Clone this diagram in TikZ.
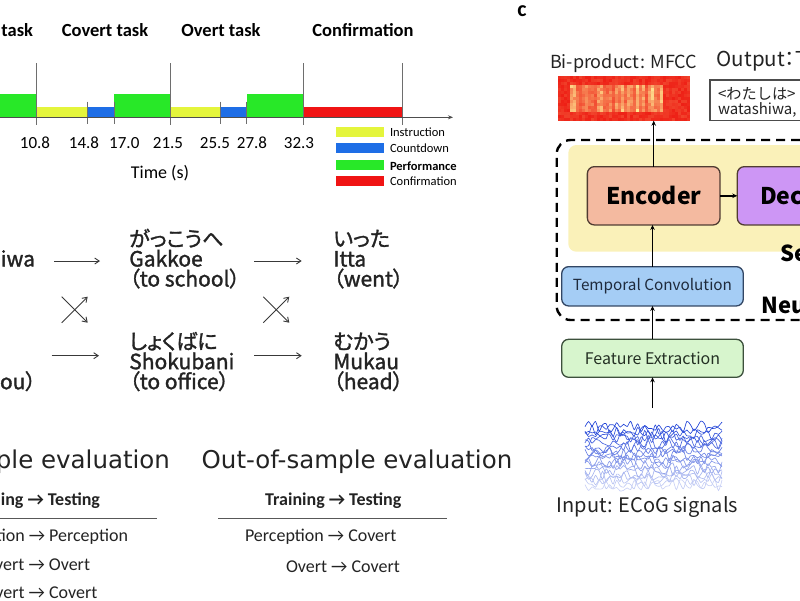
\documentclass[tikz,border=0pt]{standalone}
\usepackage{fontspec}
\setmainfont{Carlito}
\newfontfamily\jpf{Noto Sans CJK JP}
\newfontfamily\jpp[RawFeature=+palt, FakeBold=1.5]{Noto Sans CJK JP}
\newfontfamily\jpq[RawFeature=+palt]{Noto Sans CJK JP}
\newfontfamily\dvf{DejaVu Sans}
\usetikzlibrary{arrows.meta}
\newcommand\myfs[1]{\fontsize{#1}{#1}\selectfont}
\definecolor{tlyel}{RGB}{228,245,60}
\definecolor{tlblue}{RGB}{30,110,230}
\definecolor{tlgreen}{RGB}{40,232,40}
\definecolor{tlred}{RGB}{240,20,20}
\definecolor{axgray}{RGB}{110,110,110}
\definecolor{encfill}{RGB}{244,186,160}
\definecolor{encline}{RGB}{80,60,50}
\definecolor{decfill}{RGB}{205,150,245}
\definecolor{seqyel}{RGB}{250,241,185}
\definecolor{tcfill}{RGB}{165,205,245}
\definecolor{tcline}{RGB}{50,70,100}
\definecolor{fefill}{RGB}{215,245,205}
\definecolor{feline}{RGB}{60,80,60}
\definecolor{sigblue}{RGB}{30,65,215}
\definecolor{mfr}{RGB}{238,32,22}
\definecolor{mfy}{RGB}{255,238,150}
\definecolor{txtgray}{RGB}{35,35,35}
\tikzset{
  every node/.style={inner sep=0pt, outer sep=0pt},
  ttl/.style={font=\bfseries\myfs{18.5}, anchor=base},
  ticklab/.style={font=\myfs{17}, anchor=base},
  leglab/.style={font=\myfs{12.5}, anchor=base west},
  tallline/.style={axgray, line width=1pt},
  jptext/.style={font=\jpp\myfs{21}, anchor=base west, text=txtgray},
  warrow/.style={draw=txtgray!90, line width=0.9pt, -{Straight Barb[length=4.5pt,width=6pt]}},
  evtitle/.style={font=\dvf\myfs{24.5}, text=txtgray},
  evhead/.style={font=\bfseries\myfs{18}, anchor=base, text=txtgray},
  evrow/.style={font=\myfs{18}, text=txtgray},
  evrule/.style={draw=axgray!80!black, line width=1.4pt},
  nnbox/.style={draw, rounded corners=7pt, line width=1.3pt, font=\jpf},
  barrow/.style={draw=black, line width=1.5pt, -{Stealth[length=5pt,width=4.5pt]}},
  rlab/.style={font=\jpf\myfs{18}, anchor=base west, text=txtgray},
}
\begin{document}
\begin{tikzpicture}[x=1pt,y=-1pt]
\useasboundingbox (0,0) rectangle (800,600);
\clip (0,0) rectangle (800,600);

% ---------------- timeline ----------------
\node[ttl, anchor=base east] (t1) at (33,36) {task};
\node[ttl] (t2) at (105,36) {Covert task};
\node[ttl] (t3) at (221,36) {Overt task};
\node[ttl] (t4) at (363,36) {Confirmation};

\fill[tlgreen] (0,94.3) rectangle (36.7,117.3);
\fill[tlyel] (36.7,106.7) rectangle (87.3,117.3);
\fill[tlblue] (87.3,106.7) rectangle (114.3,117.3);
\fill[tlgreen] (114.3,94.3) rectangle (170,117.3);
\fill[tlyel] (170,106.7) rectangle (220,117.3);
\fill[tlblue] (220,106.7) rectangle (246.7,117.3);
\fill[tlgreen] (246.7,94.3) rectangle (303.3,117.3);
\fill[tlred] (303.3,106.7) rectangle (402.3,117.3);

\foreach \tx in {36.7,170,303.3,402.3}{\draw[tallline] (\tx,63) -- (\tx,125);}
\foreach \tx in {87.3,114.3,220,246.7}{\draw[tallline] (\tx,101.7) -- (\tx,124);}
\coordinate (axs) at (0,117.3);
\coordinate (axe) at (453,117.3);
\draw[axgray!70!black, line width=1pt, -{Stealth[length=5pt,width=4pt]}] (axs) -- (axe);

\node[ticklab] (l1) at (35,148.3) {10.8};
\node[ticklab] (l2) at (84,148.3) {14.8};
\node[ticklab] (l3) at (124.3,148.3) {17.0};
\node[ticklab] (l4) at (168,148.3) {21.5};
\node[ticklab] (l5) at (215,148.3) {25.5};
\node[ticklab] (l6) at (252,148.3) {27.8};
\node[ticklab] (l7) at (299,148.3) {32.3};
\node[font=\myfs{18}, anchor=base] (tlab) at (160,178) {Time (s)};

\fill[tlyel] (336,126.7) rectangle (384,136.7);
\fill[tlblue] (336,142.7) rectangle (384,153.3);
\fill[tlgreen] (336,160) rectangle (384,170);
\fill[tlred] (336,176) rectangle (384,186);
\node[leglab] (g1) at (390,136.5) {Instruction};
\node[leglab] (g2) at (390,152.7) {Countdown};
\node[leglab, font=\bfseries\myfs{12.5}] (g3) at (390,170) {Performance};
\node[leglab] (g4) at (390,185.5) {Confirmation};

% ---------------- sentences ----------------
\node[jptext, anchor=base east] (w1b) at (35,266.5) {hiwa};
\node[jptext] (w2c) at (0,389.2) {ou）};

\node[jptext] (s1a) at (129.3,246.5) {がっこうへ};
\node[jptext] (s1b) at (129.3,266.5) {Gakkoe};
\node[jptext] (s1c) at (129.3,286.5) {（to school）};
\node[jptext] (s2a) at (129.3,349.2) {しょくばに};
\node[jptext] (s2b) at (129.3,369.2) {Shokubani};
\node[jptext] (s2c) at (129.3,389.2) {（to office）};

\node[jptext] (v1a) at (333.3,246.5) {いった};
\node[jptext] (v1b) at (333.3,266.5) {Itta};
\node[jptext] (v1c) at (333.3,286.5) {（went）};
\node[jptext] (v2a) at (333.3,349.2) {むかう};
\node[jptext] (v2b) at (333.3,369.2) {Mukau};
\node[jptext] (v2c) at (333.3,389.2) {（head）};

\coordinate (a1s) at (54,261);   \coordinate (a1e) at (100,261);
\coordinate (a2s) at (51.7,355.7); \coordinate (a2e) at (99,355.7);
\coordinate (a3s) at (254,261);  \coordinate (a3e) at (301.7,261);
\coordinate (a4s) at (254,355.7); \coordinate (a4e) at (301.7,355.7);
\draw[warrow] (a1s) -- (a1e);
\draw[warrow] (a2s) -- (a2e);
\draw[warrow] (a3s) -- (a3e);
\draw[warrow] (a4s) -- (a4e);
\coordinate (x1a) at (61.7,322.7); \coordinate (x1b) at (87.7,296.7);
\coordinate (x1c) at (61.7,296.7); \coordinate (x1d) at (87.7,322.7);
\coordinate (x2a) at (263.3,322.7); \coordinate (x2b) at (289.3,296.7);
\coordinate (x2c) at (263.3,296.7); \coordinate (x2d) at (289.3,322.7);
\draw[warrow] (x1a) -- (x1b);
\draw[warrow] (x1c) -- (x1d);
\draw[warrow] (x2a) -- (x2b);
\draw[warrow] (x2c) -- (x2d);

% ---------------- evaluation ----------------
\node[evtitle, anchor=base east] (e1) at (170,468.3) {ple evaluation};
\node[evtitle, anchor=base west] (e2) at (201.7,468.3) {Out-of-sample evaluation};
\node[evhead, anchor=base east] (h1) at (100,505) {ing → Testing};
\node[evhead] (h2) at (333.3,505) {Training → Testing};
\coordinate (r1s) at (0,518.3); \coordinate (r1e) at (156.7,518.3);
\coordinate (r2s) at (218.3,518.3); \coordinate (r2e) at (446.7,518.3);
\draw[evrule] (r1s) -- (r1e);
\draw[evrule] (r2s) -- (r2e);
\node[evrow, anchor=base east] (i1) at (128,541) {tion → Perception};
\node[evrow, anchor=base east] (i2) at (90,570) {vert → Overt};
\node[evrow, anchor=base east] (i3) at (97.3,598.3) {vert → Covert};
\node[evrow, anchor=base west] (o1) at (245,541) {Perception → Covert};
\node[evrow, anchor=base west] (o2) at (286,572.7) {Overt → Covert};

% ---------------- network panel ----------------
\node[font=\bfseries\myfs{22}, anchor=base] (clab) at (522,16) {c};

\fill[seqyel, rounded corners=8pt] (568.3,145) rectangle (830,251.7);
\draw[black, line width=2.4pt, dash pattern=on 9pt off 6pt, rounded corners=14pt]
  (830,140) -- (556.7,140) -- (556.7,320) -- (830,320);

\node[rlab] (bip) at (550,68.3) {Bi-product: MFCC};
\node[rlab, font=\jpq\myfs{20.5}] (outl) at (716.7,66.7) {Output：T};

% MFCC picture
\node[minimum width=132.3pt, minimum height=44.7pt] (mfcc) at (623.85,98.35) {};
\pgfmathsetseed{11}
\foreach \cx in {0,...,43}{
  \pgfmathsetmacro\colf{0.3+0.7*rnd}
  \foreach \cy in {0,...,14}{
    \pgfmathsetmacro\px{557.7+\cx*3}
    \pgfmathsetmacro\py{76+\cy*3}
    \pgfmathtruncatemacro\v{ifthenelse(and(and(\cx>3,\cx<35),and(\cy>2,\cy<12)), 100*\colf*(0.55+0.45*rnd), 18*rnd)}
    \fill[mfy!\v!mfr] (\px,\py) rectangle ++(3.05,3.05);
  }
}

\node[draw=black!70, line width=1.2pt, minimum width=110pt, minimum height=40.7pt, anchor=north west] (outbox) at (710,80) {};
\node[font=\jpf\myfs{15.2}, anchor=base west, text=txtgray] (ow1) at (718,99) {<わたしは>};
\node[font=\jpf\myfs{15}, anchor=base west, text=txtgray] (ow2) at (718,114.5) {watashiwa,};

\node[nnbox, draw=encline, fill=encfill, minimum width=132.7pt, minimum height=58.3pt, font=\jpf\bfseries\myfs{23}] (enc) at (653.7,195.8) {Encoder};
\node[nnbox, draw=encline, fill=decfill, minimum width=92.7pt, minimum height=58.3pt, anchor=west] (dec) at (737.3,195.8) {};
\node[font=\jpf\bfseries\myfs{23}, anchor=base west] (dect) at (760,204) {Dec};
\node[font=\jpf\bfseries\myfs{22}, anchor=base west] (seql) at (780.7,261.7) {Se};
\node[font=\jpf\bfseries\myfs{22}, anchor=base west] (neul) at (761.7,313.3) {Neu};

\node[nnbox, draw=tcline, fill=tcfill, minimum width=181.6pt, minimum height=39.3pt, font=\jpf\myfs{15.3}, text=tcline!60!black] (tc) at (652.5,286.3) {Temporal Convolution};
\node[nnbox, draw=feline, fill=fefill, minimum width=181.6pt, minimum height=38pt, font=\jpf\myfs{16}, text=feline!60!black] (fe) at (652.5,358.3) {Feature Extraction};

% ECoG signals
\node[minimum width=137pt, minimum height=87pt] (ecog) at (653.4,451.5) {};
\pgfmathsetseed{5}
\foreach \i in {0,...,19}{
  \pgfmathsetmacro\yb{427+\i*3.1}
  \pgfmathtruncatemacro\op{100-\i*4}
  \draw[sigblue!\op!white, line width=0.65pt] plot[domain=585:722, samples=40, smooth, tension=0.5] (\x,{\yb+6*rand});
}
\node[rlab, font=\jpf\myfs{20}] (inl) at (556.7,512) {Input: ECoG signals};

\draw[barrow] (enc.east) -- (dec.west);
\draw[barrow] (enc.north) -- (enc.north |- mfcc.south);
\draw[barrow] (tc.north) -- (tc.north |- enc.south);
\draw[barrow] (fe.north) -- (fe.north |- tc.south);
\draw[barrow] (ecog.north -| fe.south) -- (fe.south);
\end{tikzpicture}
\end{document}
